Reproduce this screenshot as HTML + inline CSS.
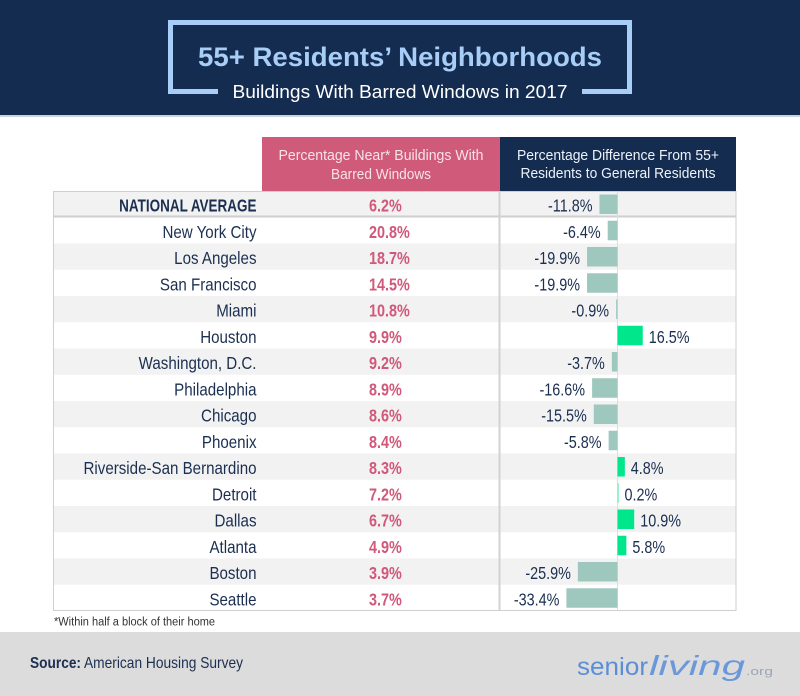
<!DOCTYPE html>
<html><head><meta charset="utf-8">
<style>
html,body{margin:0;padding:0;background:#fff;}
svg{display:block;}
text{font-family:"Liberation Sans",sans-serif;}
</style></head>
<body>
<svg width="800" height="696" viewBox="0 0 800 696" xmlns="http://www.w3.org/2000/svg">
<!-- banner -->
<rect x="0" y="0" width="800" height="115" fill="#132c50"/>
<rect x="0" y="115" width="800" height="2" fill="#cbd3de"/>
<g fill="#a8cdf6">
<rect x="168" y="20" width="464" height="5"/>
<rect x="168" y="20" width="5" height="74"/>
<rect x="627" y="20" width="5" height="74"/>
<rect x="168" y="89" width="50" height="5"/>
<rect x="582" y="89" width="50" height="5"/>
</g>
<text x="400" y="66" text-anchor="middle" font-size="27" font-weight="bold" fill="#a8cdf6" textLength="404" lengthAdjust="spacingAndGlyphs">55+ Residents’ Neighborhoods</text>
<text x="400" y="98" text-anchor="middle" font-size="18" fill="#ffffff" textLength="335" lengthAdjust="spacingAndGlyphs">Buildings With Barred Windows in 2017</text>

<!-- headers -->
<rect x="262" y="137" width="238" height="54" fill="#cf5a79"/>
<rect x="500" y="137" width="236" height="54" fill="#132c50"/>
<text x="381" y="160" text-anchor="middle" font-size="15" fill="#f8e3e9" textLength="205" lengthAdjust="spacingAndGlyphs">Percentage Near* Buildings With</text>
<text x="381" y="179" text-anchor="middle" font-size="15" fill="#f8e3e9" textLength="100" lengthAdjust="spacingAndGlyphs">Barred Windows</text>
<text x="618" y="160" text-anchor="middle" font-size="15" fill="#eef2f8" textLength="202" lengthAdjust="spacingAndGlyphs">Percentage Difference From 55+</text>
<text x="618" y="178" text-anchor="middle" font-size="15" fill="#eef2f8" textLength="195" lengthAdjust="spacingAndGlyphs">Residents to General Residents</text>

<!-- row backgrounds -->
<g fill="#f2f2f2">
<rect x="53" y="191" width="683" height="26.25"/>
<rect x="53" y="243.5" width="683" height="26.25"/>
<rect x="53" y="296" width="683" height="26.25"/>
<rect x="53" y="348.5" width="683" height="26.25"/>
<rect x="53" y="401" width="683" height="26.25"/>
<rect x="53" y="453.5" width="683" height="26.25"/>
<rect x="53" y="506" width="683" height="26.25"/>
<rect x="53" y="558.5" width="683" height="26.25"/>
</g>
<rect x="53" y="215.5" width="683" height="2" fill="#cfcfcf"/>
<!-- zero line & divider -->
<rect x="617" y="191" width="1" height="420" fill="#dedede"/>
<rect x="498.5" y="191" width="2" height="420" fill="#d2d2d2"/>
<rect x="53.5" y="191.5" width="682.5" height="419" fill="none" stroke="#cfcfcf" stroke-width="1"/>

<!-- bars -->
<g fill="#9ec8be">
<rect x="599.45" y="194.5" width="18.05" height="19.5"/>
<rect x="607.71" y="220.75" width="9.79" height="19.5"/>
<rect x="587.05" y="247" width="30.45" height="19.5"/>
<rect x="587.05" y="273.25" width="30.45" height="19.5"/>
<rect x="616.12" y="299.5" width="1.38" height="19.5"/>
<rect x="611.84" y="352" width="5.66" height="19.5"/>
<rect x="592.1" y="378.25" width="25.4" height="19.5"/>
<rect x="593.78" y="404.5" width="23.72" height="19.5"/>
<rect x="608.63" y="430.75" width="8.87" height="19.5"/>
<rect x="577.87" y="562" width="39.63" height="19.5"/>
<rect x="566.4" y="588.25" width="51.1" height="19.5"/>
</g>
<g fill="#00e68b">
<rect x="617.5" y="325.75" width="25.25" height="19.5"/>
<rect x="617.5" y="457" width="7.34" height="19.5"/>
<rect x="617.5" y="509.5" width="16.68" height="19.5"/>
<rect x="617.5" y="535.75" width="8.87" height="19.5"/>
</g>
<rect x="617.5" y="483.25" width="1.3" height="19.5" fill="#7eeebf"/>

<!-- names -->
<g fill="#1b2f50" font-size="18" text-anchor="end">
<text transform="translate(256.5,211.5) scale(0.75,1)" font-weight="bold">NATIONAL AVERAGE</text>
<text transform="translate(256.5,237.75) scale(0.84,1)">New York City</text>
<text transform="translate(256.5,264) scale(0.84,1)">Los Angeles</text>
<text transform="translate(256.5,290.25) scale(0.84,1)">San Francisco</text>
<text transform="translate(256.5,316.5) scale(0.84,1)">Miami</text>
<text transform="translate(256.5,342.75) scale(0.84,1)">Houston</text>
<text transform="translate(256.5,369) scale(0.84,1)">Washington, D.C.</text>
<text transform="translate(256.5,395.25) scale(0.84,1)">Philadelphia</text>
<text transform="translate(256.5,421.5) scale(0.84,1)">Chicago</text>
<text transform="translate(256.5,447.75) scale(0.84,1)">Phoenix</text>
<text transform="translate(256.5,474) scale(0.84,1)">Riverside-San Bernardino</text>
<text transform="translate(256.5,500.25) scale(0.84,1)">Detroit</text>
<text transform="translate(256.5,526.5) scale(0.84,1)">Dallas</text>
<text transform="translate(256.5,552.75) scale(0.84,1)">Atlanta</text>
<text transform="translate(256.5,579) scale(0.84,1)">Boston</text>
<text transform="translate(256.5,605.25) scale(0.84,1)">Seattle</text>
</g>

<!-- values -->
<g fill="#d0587a" font-size="18" font-weight="bold">
<text transform="translate(369,211.5) scale(0.8,1)">6.2%</text>
<text transform="translate(369,237.75) scale(0.8,1)">20.8%</text>
<text transform="translate(369,264) scale(0.8,1)">18.7%</text>
<text transform="translate(369,290.25) scale(0.8,1)">14.5%</text>
<text transform="translate(369,316.5) scale(0.8,1)">10.8%</text>
<text transform="translate(369,342.75) scale(0.8,1)">9.9%</text>
<text transform="translate(369,369) scale(0.8,1)">9.2%</text>
<text transform="translate(369,395.25) scale(0.8,1)">8.9%</text>
<text transform="translate(369,421.5) scale(0.8,1)">8.6%</text>
<text transform="translate(369,447.75) scale(0.8,1)">8.4%</text>
<text transform="translate(369,474) scale(0.8,1)">8.3%</text>
<text transform="translate(369,500.25) scale(0.8,1)">7.2%</text>
<text transform="translate(369,526.5) scale(0.8,1)">6.7%</text>
<text transform="translate(369,552.75) scale(0.8,1)">4.9%</text>
<text transform="translate(369,579) scale(0.8,1)">3.9%</text>
<text transform="translate(369,605.25) scale(0.8,1)">3.7%</text>
</g>

<!-- diff labels -->
<g fill="#1b2f50" font-size="18">
<text transform="translate(592.5,211.5) scale(0.8,1)" text-anchor="end">-11.8%</text>
<text transform="translate(600.7,237.75) scale(0.8,1)" text-anchor="end">-6.4%</text>
<text transform="translate(580,264) scale(0.8,1)" text-anchor="end">-19.9%</text>
<text transform="translate(580,290.25) scale(0.8,1)" text-anchor="end">-19.9%</text>
<text transform="translate(609,316.5) scale(0.8,1)" text-anchor="end">-0.9%</text>
<text transform="translate(648.8,342.75) scale(0.8,1)">16.5%</text>
<text transform="translate(604.8,369) scale(0.8,1)" text-anchor="end">-3.7%</text>
<text transform="translate(585.1,395.25) scale(0.8,1)" text-anchor="end">-16.6%</text>
<text transform="translate(586.8,421.5) scale(0.8,1)" text-anchor="end">-15.5%</text>
<text transform="translate(601.6,447.75) scale(0.8,1)" text-anchor="end">-5.8%</text>
<text transform="translate(630.8,474) scale(0.8,1)">4.8%</text>
<text transform="translate(624.5,500.25) scale(0.8,1)">0.2%</text>
<text transform="translate(640.2,526.5) scale(0.8,1)">10.9%</text>
<text transform="translate(632.4,552.75) scale(0.8,1)">5.8%</text>
<text transform="translate(570.9,579) scale(0.8,1)" text-anchor="end">-25.9%</text>
<text transform="translate(559.4,605.25) scale(0.8,1)" text-anchor="end">-33.4%</text>
</g>

<!-- footnote -->
<text x="54" y="625.7" font-size="11.5" fill="#333333" textLength="161" lengthAdjust="spacingAndGlyphs">*Within half a block of their home</text>

<!-- footer -->
<rect x="0" y="632" width="800" height="64" fill="#dcdcdc"/>
<text x="30" y="668" font-size="16" font-weight="bold" fill="#1b2f50" textLength="51" lengthAdjust="spacingAndGlyphs">Source:</text>
<text x="84" y="668" font-size="16" fill="#1b2f50" textLength="159" lengthAdjust="spacingAndGlyphs">American Housing Survey</text>

<!-- logo -->
<text x="577" y="675" font-size="25" fill="#5b8ed6" textLength="71" lengthAdjust="spacingAndGlyphs">senior</text>
<text x="649" y="675" font-size="28" font-style="italic" font-family="Liberation Serif, serif" fill="#6a98da" textLength="96" lengthAdjust="spacingAndGlyphs">living</text>
<text x="746" y="675" font-size="11" fill="#9aa6b4" textLength="27" lengthAdjust="spacingAndGlyphs">.org</text>
</svg>
</body></html>
